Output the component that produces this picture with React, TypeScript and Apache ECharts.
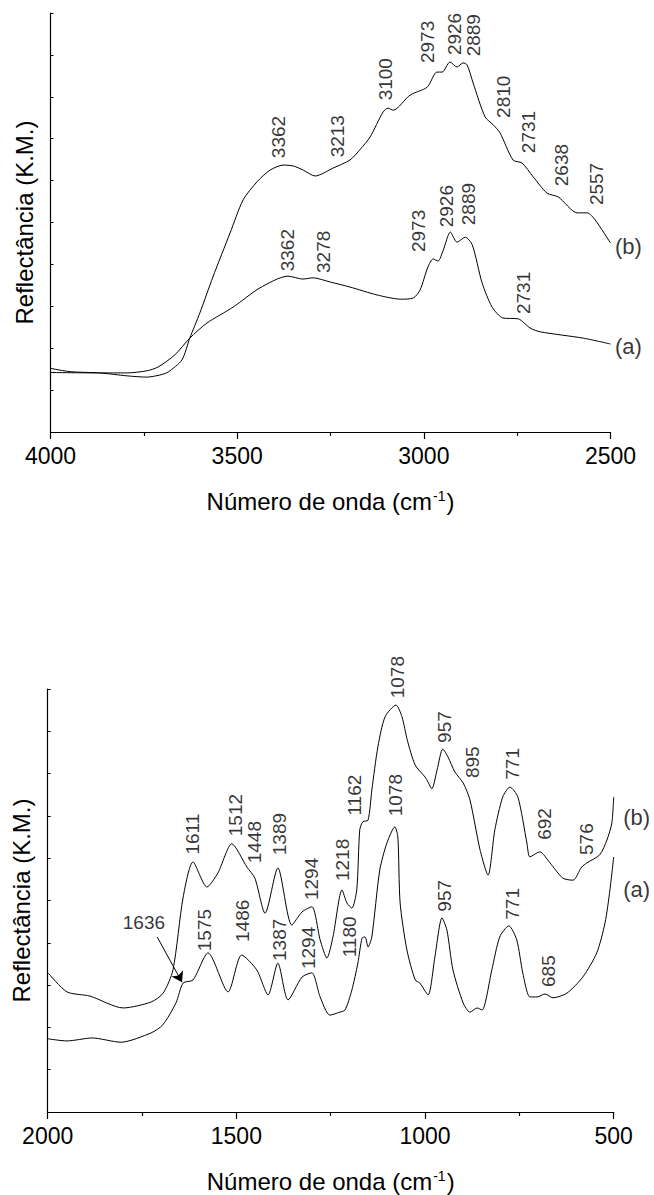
import React, { useEffect, useRef } from "react";
import * as echarts from "echarts";

// ---------- Top panel (4000–2500 cm-1) ----------
const topWavenumbersB = [4000, 3948, 3868, 3795, 3742, 3707, 3685, 3648, 3627, 3600, 3565, 3519, 3484, 3447, 3412, 3377, 3350, 3323, 3291, 3243, 3198, 3170, 3144, 3109, 3096, 3082, 3037, 2991, 2965, 2951, 2930, 2911, 2895, 2884, 2868, 2836, 2814, 2796, 2761, 2737, 2707, 2670, 2640, 2589, 2562, 2541, 2500];
const topValuesB = [1.52, 1.44, 1.41, 1.34, 1.31, 1.36, 1.43, 1.72, 2.24, 2.84, 3.70, 4.75, 5.54, 5.97, 6.25, 6.37, 6.35, 6.25, 6.11, 6.30, 6.49, 6.75, 7.04, 7.64, 7.73, 7.68, 8.04, 8.23, 8.59, 8.59, 8.83, 8.71, 8.81, 8.76, 8.33, 7.52, 7.33, 7.14, 6.49, 6.42, 6.09, 5.70, 5.61, 5.23, 5.23, 5.06, 4.51];

const topWavenumbersA = [4000, 3868, 3795, 3742, 3712, 3667, 3627, 3581, 3511, 3439, 3364, 3324, 3297, 3251, 3198, 3125, 3062, 3028, 3010, 2989, 2975, 2962, 2948, 2929, 2911, 2889, 2870, 2844, 2817, 2788, 2747, 2715, 2688, 2573, 2500];
const topValuesA = [1.42, 1.41, 1.41, 1.46, 1.55, 1.84, 2.24, 2.60, 2.98, 3.44, 3.72, 3.65, 3.68, 3.58, 3.46, 3.27, 3.17, 3.20, 3.39, 3.94, 4.13, 4.08, 4.34, 4.77, 4.53, 4.65, 4.46, 3.56, 2.98, 2.72, 2.70, 2.48, 2.39, 2.24, 2.10];

const topLabelTexts = ["3362", "3213", "3100", "2973", "2926", "2889", "2810", "2731", "2638", "2557", "3362", "3278", "2973", "2926", "2889", "2731", "(b)", "(a)"];
const topLabelWavenumbers = [3388, 3232, 3104, 2989, 2919, 2868, 2787, 2720, 2632, 2538, 3364, 3270, 3013, 2938, 2881, 2734, 2452, 2452];
const topLabelValues = [7.04, 7.06, 8.42, 9.31, 9.50, 9.47, 8.00, 7.16, 6.37, 5.92, 4.34, 4.30, 4.80, 5.39, 5.44, 3.32, 4.42, 2.05];

// ---------- Bottom panel (2000–500 cm-1) ----------
const bottomWavenumbersB = [1999, 1949, 1888, 1800, 1726, 1694, 1668, 1641, 1615, 1578, 1549, 1512, 1472, 1451, 1424, 1390, 1353, 1326, 1300, 1278, 1260, 1244, 1220, 1207, 1194, 1181, 1173, 1165, 1151, 1141, 1125, 1106, 1077, 1061, 1047, 1026, 1000, 992, 982, 968, 953, 939, 921, 899, 881, 854, 833, 815, 794, 775, 754, 730, 722, 696, 669, 635, 608, 585, 571, 537, 518, 505, 500];
const bottomValuesB = [3.29, 2.84, 2.74, 2.46, 2.60, 2.81, 3.36, 5.08, 5.91, 5.32, 5.65, 6.34, 5.79, 5.53, 4.70, 5.77, 4.42, 4.73, 4.85, 4.07, 3.64, 4.14, 5.25, 4.94, 4.82, 5.25, 6.67, 6.86, 6.90, 7.61, 8.63, 9.34, 9.62, 9.34, 8.79, 8.20, 7.92, 7.80, 7.64, 8.09, 8.58, 8.39, 8.04, 7.78, 7.38, 6.19, 5.60, 6.67, 7.45, 7.68, 7.45, 6.36, 6.03, 6.15, 5.89, 5.53, 5.48, 5.79, 5.89, 6.08, 6.43, 6.83, 7.45];

const bottomWavenumbersA = [1999, 1949, 1882, 1806, 1726, 1695, 1660, 1641, 1615, 1575, 1522, 1486, 1446, 1416, 1390, 1363, 1326, 1300, 1278, 1252, 1226, 1212, 1194, 1178, 1167, 1159, 1151, 1141, 1120, 1101, 1080, 1072, 1066, 1048, 1026, 1014, 992, 974, 955, 942, 926, 899, 881, 862, 849, 823, 802, 778, 757, 741, 722, 703, 682, 661, 624, 582, 545, 523, 510, 500];
const bottomValuesA = [1.73, 1.68, 1.75, 1.65, 1.87, 2.06, 2.58, 3.05, 3.12, 3.76, 2.84, 3.71, 3.36, 2.77, 3.52, 2.65, 3.19, 3.29, 2.72, 2.29, 2.36, 2.41, 2.88, 3.52, 4.11, 4.14, 3.90, 4.14, 5.72, 6.36, 6.74, 6.50, 4.94, 3.83, 3.12, 3.05, 2.77, 3.66, 4.59, 4.30, 3.36, 2.58, 2.36, 2.46, 2.41, 3.36, 4.14, 4.40, 4.07, 3.29, 2.72, 2.72, 2.79, 2.70, 2.81, 3.19, 3.76, 4.47, 5.25, 6.03];

const bottomLabelTexts = ["1611", "1512", "1448", "1389", "1294", "1218", "1162", "1078", "957", "895", "771", "692", "576", "1636", "1575", "1486", "1387", "1294", "1180", "1078", "957", "771", "685", "(b)", "(a)"];
const bottomLabelWavenumbers = [1615, 1501, 1453, 1387, 1301, 1218, 1186, 1074, 949, 875, 767, 683, 572, 1745, 1585, 1485, 1387, 1308, 1199, 1079, 949, 767, 672, 439, 439];
const bottomLabelValues = [6.57, 7.02, 6.38, 6.57, 5.51, 5.96, 7.49, 10.28, 9.10, 8.27, 8.23, 6.81, 6.45, 4.49, 4.30, 4.52, 4.07, 3.88, 4.14, 7.49, 5.11, 4.92, 3.33, 6.97, 5.25];

const arrowFrom = [1710, 4.14];
const arrowTo = [1644, 3.07];

const horizontalLabels = ["1636", "(a)", "(b)"];

const FONT = "'Liberation Sans', Arial, Helvetica, sans-serif";

function pairs(xs: number[], ys: number[]) {
  return xs.map((x, i) => [x, ys[i]]);
}

function labelData(texts: string[], xs: number[], ys: number[]) {
  return texts.map((t, i) => {
    const horiz = horizontalLabels.includes(t);
    const isSeries = t === "(a)" || t === "(b)";
    return {
      name: t,
      value: [xs[i], ys[i]],
      label: horiz ? { rotate: 0, fontSize: isSeries ? 22 : 19 } : undefined,
    };
  });
}

export default function App() {
  const ref = useRef<HTMLDivElement>(null);

  useEffect(() => {
    document.body.style.margin = "0";
    if (!ref.current) return;
    const chart = echarts.init(ref.current, undefined, { renderer: "svg" });

    const xAxisBase = (gridIndex: number, min: number, max: number) => ({
      gridIndex,
      type: "value",
      min,
      max,
      interval: 500,
      inverse: true,
      axisLine: { show: true, onZero: false, lineStyle: { color: "#000", width: 1.2 } },
      axisTick: { show: true, inside: false, length: 7, lineStyle: { color: "#000", width: 1.2 } },
      minorTick: { show: true, splitNumber: 2, length: 4, lineStyle: { color: "#000", width: 1.2 } },
      splitLine: { show: false },
      minorSplitLine: { show: false },
      axisLabel: {
        show: true,
        fontSize: 23,
        color: "#000",
        fontFamily: FONT,
        margin: 12,
        showMinLabel: true,
        showMaxLabel: true,
        formatter: (v: number) => String(v),
      },
      name: "{a|Número de onda (cm}{sup|-1}{a|)}",
      nameLocation: "middle",
      nameGap: 57,
      nameTextStyle: {
        rich: {
          a: { fontSize: 24, color: "#000", fontFamily: FONT },
          sup: { fontSize: 14, color: "#000", fontFamily: FONT, verticalAlign: "top", padding: [0, 1, 10, 1] },
        },
      },
    });

    const yAxisBase = (gridIndex: number) => ({
      gridIndex,
      type: "value",
      min: 0,
      max: 10,
      interval: 1,
      axisLine: { show: true, onZero: false, lineStyle: { color: "#000", width: 1.2 } },
      axisTick: { show: true, inside: true, length: 3, lineStyle: { color: "#000", width: 1 } },
      axisLabel: { show: false },
      splitLine: { show: false },
      name: "Reflectância (K.M.)",
      nameLocation: "middle",
      nameGap: 14,
      nameTextStyle: { fontSize: 24, color: "#000", fontFamily: FONT },
    });

    const lineSeries = (idx: number, xs: number[], ys: number[]) => ({
      type: "line",
      xAxisIndex: idx,
      yAxisIndex: idx,
      data: pairs(xs, ys),
      showSymbol: false,
      symbol: "none",
      smooth: 0.25,
      lineStyle: { color: "#000", width: 1 },
      silent: true,
    });

    const labelSeries = (idx: number, texts: string[], xs: number[], ys: number[], extra: any = {}) => ({
      type: "scatter",
      xAxisIndex: idx,
      yAxisIndex: idx,
      clip: false,
      symbolSize: 1,
      itemStyle: { color: "rgba(0,0,0,0)" },
      silent: true,
      data: labelData(texts, xs, ys),
      label: {
        show: true,
        position: "inside",
        formatter: "{b}",
        rotate: 90,
        fontSize: 19,
        color: "#000",
        fontFamily: FONT,
      },
      ...extra,
    });

    chart.setOption({
      animation: false,
      backgroundColor: "#fff",
      grid: [
        { left: 50.5, top: 13, width: 560, height: 419 },
        { left: 47.7, top: 689, width: 566, height: 423 },
      ],
      xAxis: [xAxisBase(0, 2500, 4000), xAxisBase(1, 500, 2000)],
      yAxis: [yAxisBase(0), yAxisBase(1)],
      series: [
        lineSeries(0, topWavenumbersB, topValuesB),
        lineSeries(0, topWavenumbersA, topValuesA),
        labelSeries(0, topLabelTexts, topLabelWavenumbers, topLabelValues),
        lineSeries(1, bottomWavenumbersB, bottomValuesB),
        lineSeries(1, bottomWavenumbersA, bottomValuesA),
        labelSeries(1, bottomLabelTexts, bottomLabelWavenumbers, bottomLabelValues, {
          markLine: {
            silent: true,
            animation: false,
            symbol: ["none", "arrow"],
            symbolSize: 10,
            lineStyle: { color: "#000", width: 1, type: "solid" },
            itemStyle: { color: "#000" },
            label: { show: false },
            emphasis: { disabled: true },
            data: [[{ coord: arrowFrom }, { coord: arrowTo }]],
          },
        }),
      ],
    });

    return () => chart.dispose();
  }, []);

  return <div ref={ref} style={{ width: 654, height: 1195 }} />;
}
